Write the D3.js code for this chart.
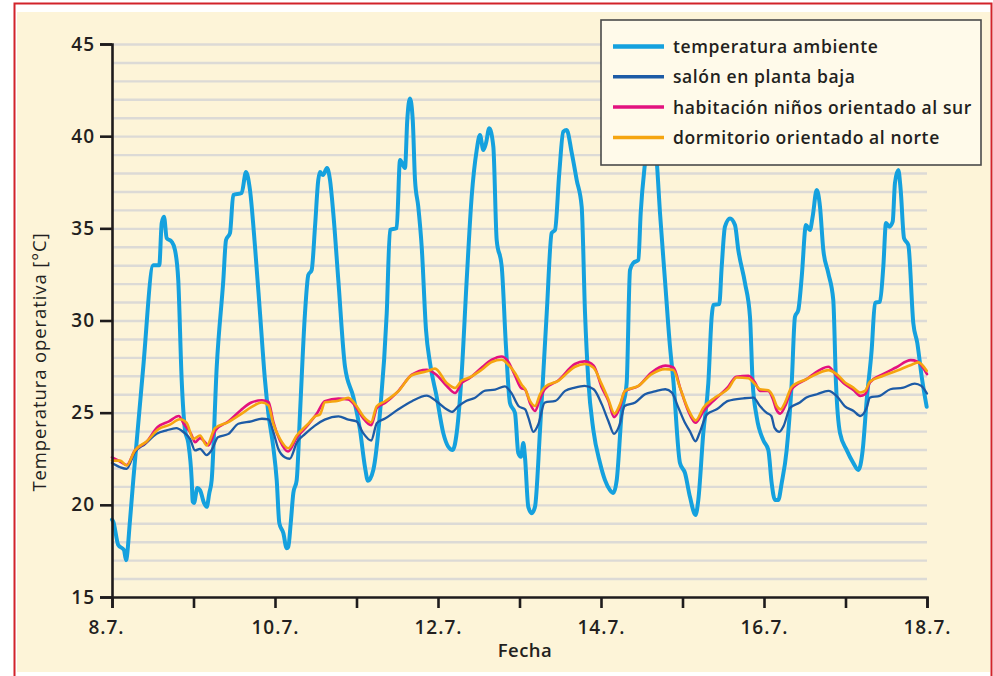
<!DOCTYPE html>
<html lang="es">
<head>
<meta charset="UTF-8">
<title>Temperatura operativa</title>
<script src="https://cdn.jsdelivr.net/npm/d3@7"></script>
<style>
  body { margin: 0; background: #fff; font-family: "Open Sans", sans-serif; }
  .axis path, .axis line { stroke: #1e1b1c; stroke-width: 2.6; fill: none; }
  .axis text { font-family: "Open Sans", sans-serif; font-size: 19px; font-weight: 600; fill: #231f20; letter-spacing: 1px; }
  .grid line { stroke: #dcdad6; stroke-width: 2.4; }
  .grid path { display: none; }
  .legend text { font-size: 17.5px; font-weight: 600; fill: #231f20; letter-spacing: 0.6px; }
</style>
</head>
<body>
<script>
// days after 8.7.
var days = d3.range(0, 11);
var dayLabels = ["8.7.", "", "10.7.", "", "12.7.", "", "14.7.", "", "16.7.", "", "18.7."];
var yTicks = [15, 20, 25, 30, 35, 40, 45];

var seriesNames = ["temperatura ambiente", "salón en planta baja", "habitación niños orientado al sur", "dormitorio orientado al norte"];

// [day, °C]
var ambiente = [[0,19.2],[0.016,19.08],[0.077,17.82],[0.147,17.55],[0.172,17.0],[0.221,19.17],[0.261,21.34],[0.38,27.3],
  [0.507,33.0],[0.58,33.0],[0.61,35.29],[0.638,35.63],[0.671,34.47],[0.733,34.27],[0.773,33.82],[0.813,32.19],[0.855,26.77],
  [0.896,24.06],[0.936,23.35],[0.978,21.34],[0.99,20.17],[1.006,20.1],[1.047,20.91],[1.08,20.8],[1.129,20.1],[1.162,19.89],
  [1.194,20.64],[1.223,21.34],[1.285,27.49],[1.366,32.19],[1.399,34.37],[1.448,34.75],[1.488,36.81],[1.591,36.92],[1.644,38.05],
  [1.693,37.08],[1.755,33.99],[1.816,30.4],[1.877,26.77],[1.918,24.98],[1.979,23.13],[2.021,21.34],[2.053,19.01],[2.102,18.47],
  [2.143,17.65],[2.163,17.72],[2.193,19.01],[2.225,20.64],[2.266,21.34],[2.307,24.98],[2.368,30.4],[2.409,32.47],[2.45,32.74],
  [2.491,35.09],[2.531,37.62],[2.552,38.05],[2.589,37.89],[2.638,38.27],[2.675,37.62],[2.715,35.83],[2.777,32.19],[2.859,27.49],
  [2.961,25.85],[3.043,24.06],[3.104,22.05],[3.141,21.3],[3.206,21.89],[3.288,24.98],[3.371,30.4],[3.411,34.91],[3.493,35.02],
  [3.534,38.71],[3.595,38.27],[3.623,40.88],[3.656,42.05],[3.69,40.88],[3.718,37.62],[3.758,36.17],[3.8,34.0],[3.853,29.48],
  [3.902,27.69],[3.984,25.86],[4.065,23.89],[4.126,23.15],[4.18,22.97],[4.229,23.89],[4.291,27.15],[4.352,32.19],[4.413,36.71],
  [4.475,39.25],[4.515,40.06],[4.556,39.25],[4.589,39.63],[4.629,40.43],[4.679,39.43],[4.72,34.37],[4.782,32.92],[4.834,28.58],
  [4.883,25.52],[4.945,24.98],[4.985,22.81],[5.018,22.61],[5.047,23.35],[5.067,22.61],[5.108,19.89],[5.15,19.55],[5.19,19.89],
  [5.252,24.06],[5.334,30.4],[5.395,34.75],[5.436,34.91],[5.488,38.0],[5.537,40.24],[5.579,40.33],[5.641,39.09],[5.702,37.62],
  [5.763,36.17],[5.804,30.4],[5.844,26.77],[5.906,24.06],[5.988,22.27],[6.049,21.34],[6.11,20.8],[6.151,20.64],[6.193,21.34],
  [6.254,24.98],[6.315,26.61],[6.356,32.74],[6.396,33.12],[6.458,33.28],[6.487,35.83],[6.54,38.54],[6.626,41.0],[6.683,38.71],
  [6.724,35.83],[6.785,32.19],[6.847,28.56],[6.887,26.77],[6.969,22.27],[7.031,21.72],[7.092,20.42],[7.16,19.45],[7.194,20.26],
  [7.255,23.89],[7.317,26.61],[7.358,30.2],[7.378,30.84],[7.451,30.89],[7.481,32.92],[7.521,35.09],[7.583,35.54],[7.644,35.18],
  [7.685,33.82],[7.767,32.03],[7.828,30.2],[7.861,26.61],[7.91,24.78],[7.991,23.51],[8.053,22.97],[8.094,21.18],[8.135,20.26],
  [8.175,20.26],[8.217,21.18],[8.278,22.97],[8.34,26.61],[8.38,30.2],[8.421,30.57],[8.463,32.37],[8.515,35.18],[8.564,34.91],
  [8.597,35.63],[8.647,37.08],[8.687,36.17],[8.728,33.82],[8.789,32.57],[8.85,31.11],[8.883,26.61],[8.933,23.89],[9.015,22.97],
  [9.096,22.27],[9.157,21.89],[9.211,22.97],[9.26,25.68],[9.321,28.4],[9.362,30.95],[9.423,31.02],[9.464,32.92],[9.497,35.29],
  [9.537,35.09],[9.579,35.36],[9.607,37.46],[9.648,38.16],[9.677,37.08],[9.718,34.47],[9.771,34.09],[9.832,29.86],[9.881,28.78],
  [9.935,26.95],[9.996,25.32]];

var salon = [[0,22.27],[0.1,22.04],[0.18,21.95],[0.28,22.85],[0.405,23.3],[0.548,23.85],[0.67,24.04],[0.79,24.16],[0.875,23.95],
  [0.957,23.58],[1.02,22.95],[1.08,23.04],[1.16,22.7],[1.22,22.95],[1.3,23.67],[1.43,23.85],[1.55,24.4],[1.71,24.53],[1.84,24.67],
  [1.92,24.64],[1.98,23.95],[2.04,23.04],[2.12,22.58],[2.18,22.5],[2.27,23.4],[2.37,23.85],[2.49,24.3],[2.61,24.62],[2.78,24.8],
  [2.9,24.62],[3.0,24.53],[3.08,23.9],[3.18,23.49],[3.25,24.44],[3.35,24.68],[3.51,25.17],[3.68,25.62],[3.86,25.92],[3.98,25.62],
  [4.11,25.17],[4.17,25.04],[4.25,25.35],[4.35,25.65],[4.45,25.8],[4.58,26.2],[4.7,26.25],[4.82,26.43],[4.9,26.07],[4.99,25.35],
  [5.07,25.18],[5.11,24.72],[5.17,23.96],[5.23,24.36],[5.31,25.55],[5.44,25.64],[5.56,26.18],[5.68,26.36],[5.8,26.45],[5.91,26.27],
  [6.01,25.45],[6.09,24.55],[6.16,23.85],[6.23,24.36],[6.29,25.36],[6.42,25.55],[6.54,26.0],[6.66,26.15],[6.79,26.27],[6.87,26.09],
  [6.95,25.27],[7.03,24.45],[7.09,24.0],[7.16,23.45],[7.21,23.91],[7.3,24.91],[7.42,25.18],[7.56,25.64],[7.75,25.78],[7.87,25.82],
  [7.95,25.36],[8.03,25.0],[8.09,24.82],[8.13,24.18],[8.19,23.96],[8.24,24.27],[8.32,25.27],[8.44,25.55],[8.52,25.82],[8.65,26.0],
  [8.79,26.18],[8.89,25.91],[8.99,25.36],[9.1,25.09],[9.18,24.82],[9.26,25.27],[9.3,25.82],[9.42,25.91],[9.55,26.27],[9.71,26.36],
  [9.85,26.58],[9.93,26.45],[10.0,26.04]];

var habitacion = [[0,22.58],[0.1,22.35],[0.18,22.16],[0.28,22.95],[0.42,23.4],[0.56,24.22],[0.7,24.53],[0.82,24.82],[0.88,24.4],
  [0.97,23.85],[1.02,23.4],[1.08,23.62],[1.14,23.4],[1.18,23.22],[1.27,24.04],[1.43,24.53],[1.58,25.13],[1.71,25.55],[1.84,25.67],
  [1.92,25.58],[1.98,24.49],[2.06,23.49],[2.16,22.89],[2.27,23.67],[2.4,24.31],[2.52,25.0],[2.61,25.62],[2.78,25.76],[2.9,25.71],
  [3.0,25.26],[3.08,24.71],[3.18,24.32],[3.25,25.26],[3.35,25.53],[3.51,26.16],[3.68,27.06],[3.86,27.33],[3.98,27.06],[4.11,26.43],
  [4.21,26.07],[4.29,26.61],[4.39,26.88],[4.53,27.42],[4.66,27.87],[4.78,28.05],[4.86,27.78],[4.94,27.06],[5.02,26.34],[5.07,26.25],
  [5.13,25.5],[5.19,25.09],[5.25,25.73],[5.31,26.27],[5.48,26.76],[5.68,27.64],[5.8,27.78],[5.91,27.55],[6.01,26.36],[6.09,25.64],
  [6.16,24.76],[6.23,25.27],[6.29,26.15],[6.46,26.45],[6.62,27.18],[6.79,27.55],[6.89,27.45],[6.97,26.36],[7.07,25.09],[7.16,24.45],
  [7.26,25.09],[7.4,25.73],[7.56,26.4],[7.66,26.95],[7.81,27.0],[7.89,26.64],[7.95,26.18],[8.05,26.18],[8.11,25.73],[8.15,25.18],
  [8.2,24.95],[8.26,25.36],[8.34,26.27],[8.52,26.82],[8.68,27.31],[8.79,27.49],[8.89,27.0],[8.99,26.55],[9.1,26.22],[9.18,25.91],
  [9.24,26.0],[9.3,26.64],[9.46,27.09],[9.62,27.45],[9.8,27.85],[9.88,27.78],[10.0,27.09]];

var dormitorio = [[0,22.4],[0.1,22.4],[0.18,22.13],[0.28,22.95],[0.425,23.44],[0.569,24.1],[0.712,24.35],[0.834,24.64],[0.916,24.45],
  [0.998,23.58],[1.08,23.76],[1.162,23.22],[1.264,24.16],[1.427,24.49],[1.591,24.95],[1.714,25.31],[1.837,25.55],[1.918,25.4],
  [1.979,24.4],[2.061,23.58],[2.164,23.07],[2.266,23.76],[2.409,24.4],[2.491,24.8],[2.552,24.9],[2.613,25.56],[2.777,25.65],
  [2.9,25.8],[3.002,25.35],[3.084,24.8],[3.178,24.48],[3.248,25.35],[3.35,25.62],[3.513,26.16],[3.677,27.03],[3.861,27.24],
  [3.963,27.39],[4.107,26.61],[4.209,26.34],[4.291,26.74],[4.393,26.92],[4.536,27.33],[4.659,27.75],[4.782,27.87],[4.863,27.6],
  [4.945,27.15],[5.027,26.52],[5.067,26.3],[5.129,25.64],[5.19,25.36],[5.252,26.0],[5.313,26.4],[5.476,26.73],[5.681,27.49],
  [5.804,27.64],[5.906,27.45],[6.008,26.55],[6.09,25.73],[6.164,24.95],[6.233,25.45],[6.294,26.18],[6.458,26.45],[6.622,27.09],
  [6.785,27.36],[6.888,27.31],[6.969,26.36],[7.071,25.18],[7.162,24.58],[7.256,25.27],[7.399,25.82],[7.562,26.3],[7.665,26.91],
  [7.807,26.87],[7.89,26.55],[7.951,26.27],[8.053,26.22],[8.114,25.85],[8.156,25.36],[8.205,25.18],[8.258,25.55],[8.34,26.4],
  [8.524,26.82],[8.687,27.18],[8.789,27.31],[8.892,27.09],[8.994,26.64],[9.096,26.36],[9.178,26.09],[9.239,26.18],[9.301,26.69],
  [9.464,27.0],[9.628,27.27],[9.812,27.6],[9.894,27.73],[9.996,27.27]];

var colors = ["#15a1de", "#1d5ba6", "#e3127f", "#f5a510"];
var widths = [4, 2.3, 2.6, 2.6];

var W = 993, H = 676;
var plot = {left: 112, right: 927, top: 44, bottom: 597};

var svg = d3.select("body").append("svg")
  .attr("width", W).attr("height", H);

// frame
svg.append("rect").attr("x", 17).attr("y", 12).attr("width", 973).attr("height", 660).attr("fill", "#fdf4d8");
svg.append("path").attr("d", "M14.5,690 V3.5 H991.5 V690")
  .attr("fill", "none").attr("stroke", "#d2232a").attr("stroke-width", 2);

var x = d3.scaleLinear().domain([0, 10]).range([plot.left, plot.right]);
var y = d3.scaleLinear().domain([15, 45]).range([plot.bottom, plot.top]);

// gridlines every degree
svg.append("g").attr("class", "grid")
  .attr("transform", "translate(" + plot.left + ",0)")
  .call(d3.axisLeft(y).tickValues(d3.range(16, 46)).tickSize(-(plot.right - plot.left)).tickFormat(""));

var line = d3.line()
  .x(function(d){ return x(d[0]); })
  .y(function(d){ return y(d[1]); })
  .curve(d3.curveMonotoneX);

[ambiente, salon, habitacion, dormitorio].forEach(function(s, i){
  svg.append("path").datum(s)
    .attr("d", line)
    .attr("fill", "none")
    .attr("stroke", colors[i])
    .attr("stroke-width", widths[i])
    .attr("stroke-linejoin", "round")
    .attr("stroke-linecap", "round");
});

// axes
var xAxisG = svg.append("g").attr("class", "axis")
  .attr("transform", "translate(0," + plot.bottom + ")")
  .call(d3.axisBottom(x).tickValues(days).tickSizeOuter(0).tickSize(11).tickPadding(13)
    .tickFormat(function(d, i){ return dayLabels[i]; }));
// first label sits a little left of its tick
xAxisG.selectAll(".tick text").filter(function(d){ return d === 0; }).attr("dx", -6);

svg.append("g").attr("class", "axis")
  .attr("transform", "translate(" + plot.left + ",0)")
  .call(d3.axisLeft(y).tickValues(yTicks).tickSizeOuter(0).tickSize(12).tickPadding(5));

svg.append("text")
  .attr("x", 525).attr("y", 657)
  .attr("text-anchor", "middle")
  .style("font-size", "18.5px").style("font-weight", 600).style("fill", "#231f20")
  .style("letter-spacing", "0.5px")
  .text("Fecha");

svg.append("text")
  .attr("transform", "translate(46,362) rotate(-90)")
  .attr("text-anchor", "middle")
  .style("font-size", "18.5px").style("font-weight", 500).style("fill", "#231f20")
  .style("letter-spacing", "0.9px")
  .text("Temperatura operativa [°C]");

// legend
var lg = svg.append("g").attr("class", "legend");
lg.append("rect").attr("x", 601).attr("y", 20).attr("width", 380).attr("height", 145)
  .attr("fill", "#fffaea").attr("stroke", "#4a4a4a").attr("stroke-width", 1.6);

seriesNames.forEach(function(name, i){
  var ly = 46.5 + i * 30.3;
  lg.append("line").attr("x1", 613).attr("x2", 664).attr("y1", ly).attr("y2", ly)
    .attr("stroke", colors[i]).attr("stroke-width", i === 0 ? 4.5 : 3.5);
  lg.append("text").attr("x", 673).attr("y", ly + 6.5).text(name);
});
</script>
</body>
</html>
